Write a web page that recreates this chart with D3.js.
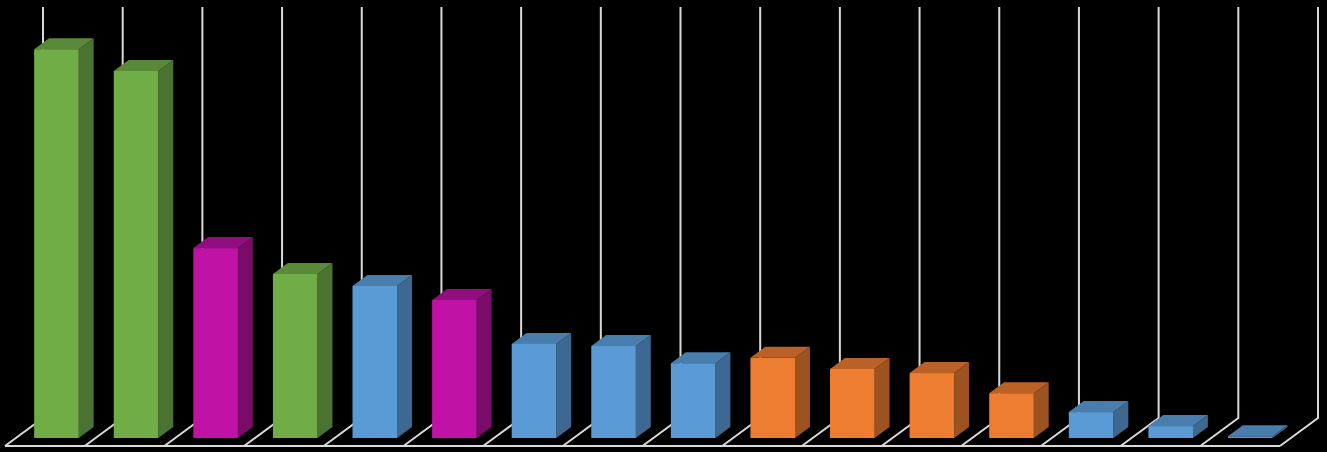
<!DOCTYPE html>
<html><head><meta charset="utf-8">
<script src="https://cdn.jsdelivr.net/npm/d3@7"></script>
<style>html,body{margin:0;padding:0;background:#000;}svg{display:block;}</style>
</head><body>
<svg id="chart" width="1327" height="452"></svg>
<script>
const categories = ["C1","C2","C3","C4","C5","C6","C7","C8","C9","C10","C11","C12","C13","C14","C15","C16"];
const values = [94.6, 89.3, 46.2, 39.9, 37.0, 33.6, 22.9, 22.4, 18.2, 19.5, 16.8, 15.8, 10.9, 6.3, 2.9, 0.4];
const groups = ["green","green","magenta","green","blue","magenta","blue","blue","blue","orange","orange","orange","orange","blue","blue","blue"];
const palette = {
  green:   {front:"#70AD47", top:"#5A8A39", side:"#4A7230"},
  magenta: {front:"#C013A6", top:"#900E7D", side:"#790B69"},
  blue:    {front:"#5B9BD5", top:"#497DAC", side:"#3D6891"},
  orange:  {front:"#ED7D31", top:"#BA6127", side:"#9C5221"}
};

const svg = d3.select("#chart");
const backY = 418, topY = 7;
const depthDX = -38, depthDY = 28;
const x = d3.scaleBand().domain(categories).range([43, 1318]).paddingInner(0.44).paddingOuter(0.23);
const slot = d3.scaleBand().domain(categories).range([43, 1318]);
const h = d3.scaleLinear().domain([0, 100]).range([0, backY - topY]);

// back-wall vertical grid lines
const gx = slot.domain().map(c => slot(c)).concat([1318]);
const grid = svg.append("g").attr("stroke", "#D9D9D9").attr("stroke-width", 2).attr("fill", "none");
gx.forEach(v => {
  grid.append("path").attr("d", `M${v},${topY}L${v},${backY}L${v + depthDX},${backY + depthDY}`);
});
grid.append("line").attr("x1", gx[0] + depthDX).attr("x2", gx[gx.length-1] + depthDX)
  .attr("y1", backY + depthDY).attr("y2", backY + depthDY);

// bars
const fFront = 20 / 28, fBack = 9 / 28;
const bars = svg.append("g");
categories.forEach((c, i) => {
  const col = palette[groups[i]];
  const x0 = x(c) + depthDX * fFront, x1 = x0 + x.bandwidth();
  const yb = backY + depthDY * fFront;
  const ht = h(values[i]);
  const yt = yb - ht;
  const ddx = depthDX * (fBack - fFront), ddy = depthDY * (fBack - fFront);
  const g = bars.append("g");
  g.append("path").attr("fill", col.side)
    .attr("d", `M${x1},${yb}L${x1},${yt}L${x1+ddx},${yt+ddy}L${x1+ddx},${yb+ddy}Z`);
  g.append("path").attr("fill", col.top)
    .attr("d", `M${x0},${yt}L${x1},${yt}L${x1+ddx},${yt+ddy}L${x0+ddx},${yt+ddy}Z`);
  g.append("rect").attr("fill", col.front)
    .attr("x", x0).attr("y", yt).attr("width", x1 - x0).attr("height", ht);
});
</script>
</body></html>
